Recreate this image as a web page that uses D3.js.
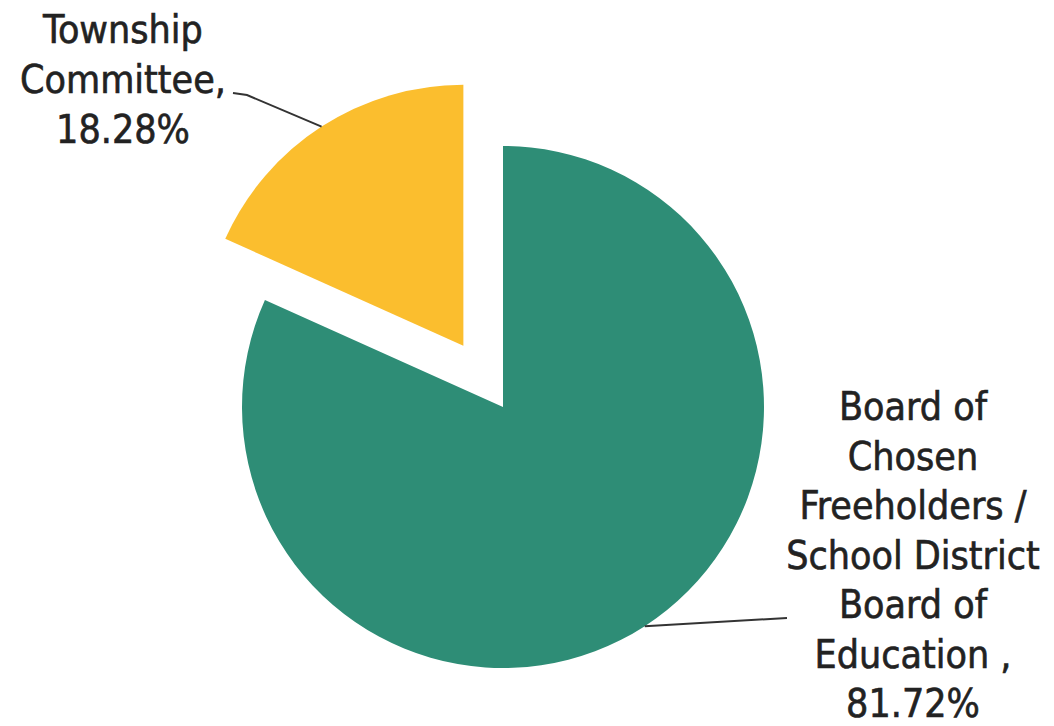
<!DOCTYPE html>
<html>
<head>
<meta charset="utf-8">
<script src="https://cdn.jsdelivr.net/npm/d3@7"></script>
<style>
  body { margin: 0; background: #fff; }
  text { font-family: "DejaVu Sans Condensed", "DejaVu Sans", sans-serif; fill: #222; stroke: #222; stroke-width: 0.6; }
</style>
</head>
<body>
<div id="chart"></div>
<script>
// data
const categories = ['Board of Chosen Freeholders / School District Board of Education', 'Township Committee']
const values = [81.72, 18.28]
const labelLines = [
  ['Board of', 'Chosen', 'Freeholders /', 'School District', 'Board of', 'Education ,', '81.72%'],
  ['Township', 'Committee,', '18.28%']
]
const colors = ['#2e8d76', '#fbbe2e']

// canvas
const svgWidth = 1054
const svgHeight = 726
const center = { x: 503, y: 407 }
const radius = 261
const explode = [0, 73]

const svg = d3.select('#chart').append('svg').attr('width', svgWidth).attr('height', svgHeight)
const chartGroup = svg.append('g').attr('transform', `translate(${center.x}, ${center.y})`)

const pie = d3.pie().sort(null).value(d => d)
const arcs = pie(values)
const arc = d3.arc().innerRadius(0).outerRadius(radius)

// point on a circle at angle a (0 = top, clockwise)
const polar = (a, r) => [Math.sin(a) * r, -Math.cos(a) * r]

// slices
arcs.forEach((d, i) => {
  const mid = (d.startAngle + d.endAngle) / 2
  const [ox, oy] = polar(mid, explode[i])
  chartGroup.append('path')
    .attr('d', arc(d))
    .attr('transform', `translate(${ox}, ${oy})`)
    .attr('fill', colors[i])
})

// labels: anchor centre x, first baseline, line step, leader end points
const labelLayout = [
  { x: 913, y: 420, step: 49.5, leader: [[787, 618]] },
  { x: 123, y: 43, step: 50, leader: [[247, 95], [233, 93]] }
]

arcs.forEach((d, i) => {
  const mid = (d.startAngle + d.endAngle) / 2
  const [ox, oy] = polar(mid, explode[i])
  const [ex, ey] = polar(mid, radius)
  const start = [center.x + ox + ex, center.y + oy + ey]
  const lay = labelLayout[i]

  svg.append('path')
    .attr('d', d3.line()([start, ...lay.leader]))
    .attr('fill', 'none')
    .attr('stroke', '#333')
    .attr('stroke-width', 2)

  const t = svg.append('text')
    .attr('text-anchor', 'middle')
    .attr('font-size', 39)
  t.selectAll('tspan').data(labelLines[i]).enter().append('tspan')
    .attr('x', lay.x)
    .attr('y', (s, j) => lay.y + j * lay.step)
    .text(s => s)
})
</script>
</body>
</html>
